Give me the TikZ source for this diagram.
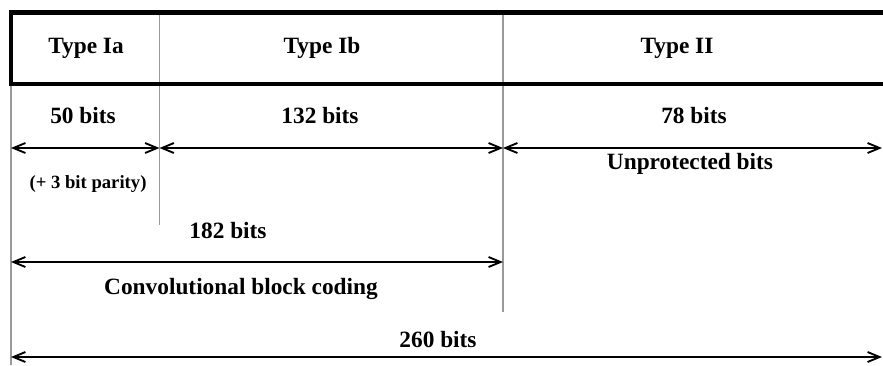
\documentclass[tikz,border=0pt]{standalone}
\usepackage{fontspec}
\setmainfont{Liberation Serif}
\usepackage{tikz}
\usetikzlibrary{arrows.meta}

\tikzset{
	lbl/.style={font=\bfseries\fontsize{17.5}{20}\selectfont, inner sep=0pt},
	smalllbl/.style={font=\bfseries\fontsize{14}{16}\selectfont, inner sep=0pt},
	divider/.style={gray!80, line width=1.1pt},
	span/.style={<->, line width=1.4pt},
}

\begin{document}
\begin{tikzpicture}[x=0.75pt, y=-0.75pt, >={Straight Barb[length=9pt, width=7.5pt]}]
	\useasboundingbox (0,0) rectangle (883,365);
	% header frame and dividers
	\coordinate (tl) at (11,12.5); \coordinate (tr) at (890,12.5);
	\coordinate (bl) at (11,84); \coordinate (br) at (890,84);
	\coordinate (va) at (11,365); \coordinate (vb0) at (159.5,12.5); \coordinate (vb1) at (159.5,225);
	\coordinate (vc0) at (503,12.5); \coordinate (vc1) at (503,312);
	\draw[divider] (bl) -- (va);
	\draw[divider] (vb0) -- (vb1);
	\draw[divider] (vc0) -- (vc1);
	\draw[line width=3.6pt, line join=miter] (tr) -- (tl) -- (bl) -- (br);
	% field names
	\node[lbl] (ia) at (86,48) {Type Ia};
	\node[lbl] (ib) at (322,48) {Type Ib};
	\node[lbl] (ii) at (677,48) {Type II};
	\node[lbl] (n50) at (83,116) {50 bits};
	\node[lbl] (n132) at (320,116) {132 bits};
	\node[lbl] (n78) at (694,116) {78 bits};
	\node[smalllbl] (par) at (88,184) {(+ 3 bit parity)};
	\node[lbl] (unp) at (690,164) {Unprotected bits};
	\node[lbl] (n182) at (228,231) {182 bits};
	\node[lbl] (conv) at (241,289) {Convolutional block coding};
	\node[lbl] (n260) at (438,340) {260 bits};
	% spans
	\coordinate (r1a) at (11,148); \coordinate (r1b) at (159.5,148);
	\coordinate (r1c) at (503,148); \coordinate (r1d) at (882,148);
	\coordinate (r2a) at (11,262); \coordinate (r2b) at (503,262);
	\coordinate (r3a) at (11,357); \coordinate (r3b) at (882,357);
	\draw[span] (r1a) -- (r1b);
	\draw[span] (r1b) -- (r1c);
	\draw[span] (r1c) -- (r1d);
	\draw[span] (r2a) -- (r2b);
	\draw[span] (r3a) -- (r3b);
\end{tikzpicture}
\end{document}
